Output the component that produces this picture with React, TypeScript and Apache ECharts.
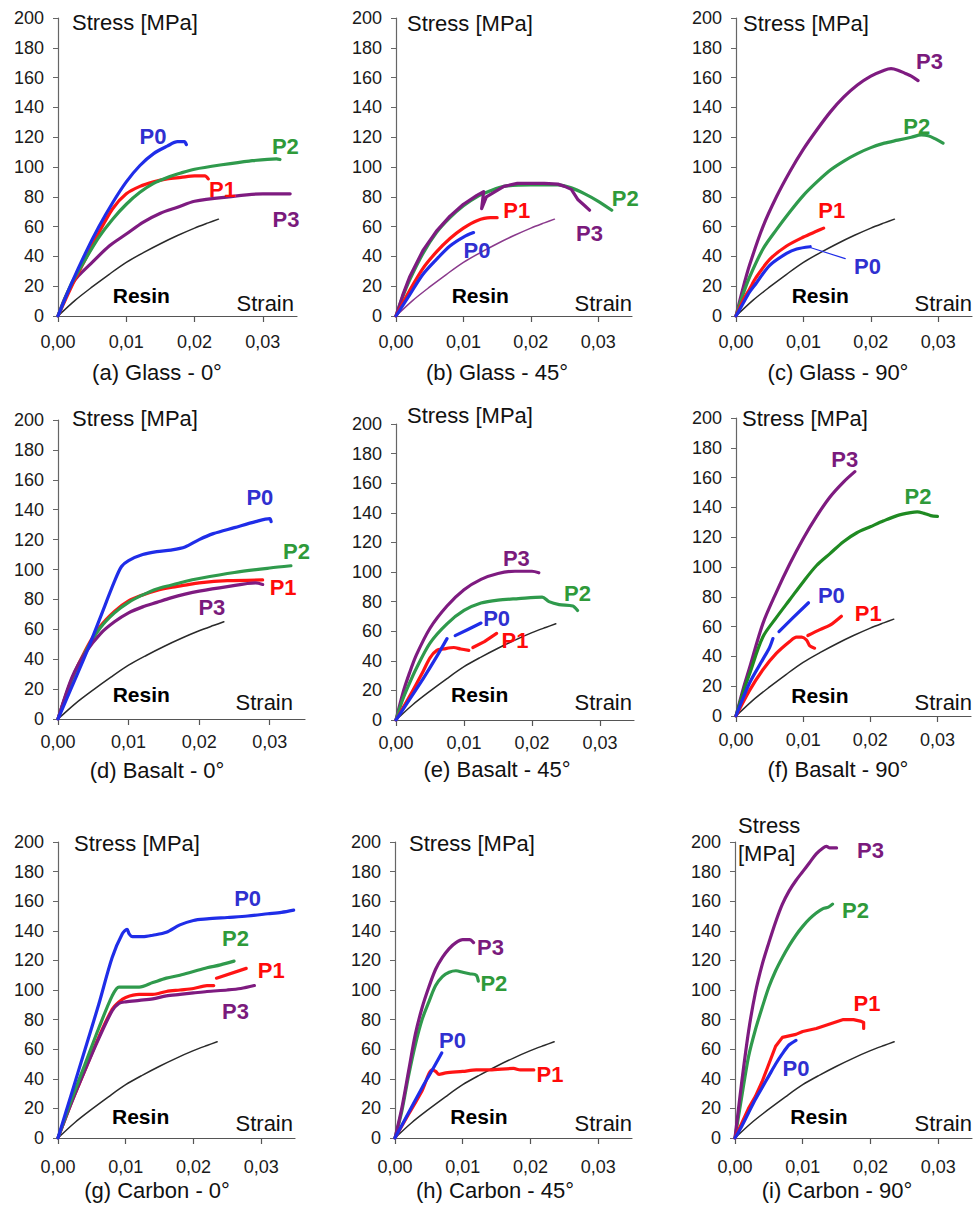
import React, { useEffect, useRef } from 'react';
import * as echarts from 'echarts';

const FONT = '"Liberation Sans", Arial, sans-serif';

const COLORS: Record<string, string> = { P0: '#1f2de8', P1: '#ff1414', P2: '#2f9a4c', P3: '#7e1b80', Resin: '#2a2a2a' };
const LABEL_COLORS: Record<string, string> = { P0: '#3030d0', P1: '#ff0a0a', P2: '#2f9a3a', P3: '#7a1a7c', Resin: '#000000' };

const strainTicks = [0, 0.01, 0.02, 0.03];

// Resin reference curve (same in every panel)
const resin = [[0, 0], [0.0025, 10.5], [0.005, 19.5], [0.0075, 28], [0.01, 36], [0.0125, 42.5], [0.015, 48.5], [0.0175, 54], [0.02, 59], [0.022, 62.5], [0.0235, 65]];

// (a) Glass 0°
const gl0_P0 = [[0, 0], [0.002, 22], [0.004, 42], [0.006, 60], [0.008, 76], [0.010, 90], [0.012, 101], [0.014, 109], [0.016, 114], [0.0175, 117], [0.0185, 117], [0.0188, 115]];
const gl0_P1 = [[0, 0], [0.002, 20], [0.004, 38], [0.006, 56], [0.008, 72], [0.010, 82], [0.012, 87], [0.014, 90], [0.016, 92], [0.018, 93], [0.020, 94], [0.0215, 94], [0.022, 92]];
const gl0_P2 = [[0, 0], [0.002, 22], [0.004, 38], [0.006, 53], [0.008, 65], [0.010, 75], [0.012, 83], [0.014, 89], [0.016, 93], [0.018, 96], [0.020, 98.5], [0.024, 101.5], [0.028, 104], [0.032, 105.5], [0.0325, 105]];
const gl0_P3 = [[0, 0], [0.001, 12], [0.002, 21], [0.003, 27], [0.005, 36], [0.0075, 47], [0.010, 55], [0.0125, 63], [0.015, 69], [0.0175, 73], [0.020, 77], [0.025, 80], [0.030, 82], [0.034, 82]];
const gl0_labels: [string, number, number][] = [['P0', 0.0139, 120.5], ['P1', 0.0241, 84.7], ['P2', 0.0333, 113.8], ['P3', 0.0334, 64.5], ['Resin', 0.0122, 14]];

// (b) Glass 45°
const gl45_P0 = [[0, 0], [0.002, 14], [0.004, 28], [0.006, 38], [0.008, 47], [0.010, 53], [0.0115, 56]];
const gl45_P1 = [[0, 0], [0.002, 17], [0.004, 32], [0.006, 43], [0.008, 52], [0.010, 59], [0.012, 64], [0.014, 66], [0.015, 66]];
const gl45_P2 = [[0, 0], [0.001, 13], [0.002, 24], [0.004, 42], [0.006, 56], [0.008, 66], [0.010, 74], [0.012, 80], [0.014, 84], [0.016, 87], [0.020, 88], [0.024, 88], [0.026, 86], [0.028, 82], [0.030, 77], [0.032, 71]];
const gl45_P3 = [[0, 0], [0.001, 14], [0.002, 26], [0.004, 44], [0.006, 57], [0.008, 67], [0.010, 75], [0.012, 81], [0.013, 83.5], [0.0127, 72], [0.0134, 80], [0.016, 87], [0.018, 89], [0.020, 89], [0.022, 89], [0.024, 88.5], [0.025, 87], [0.026, 85], [0.027, 78], [0.028, 74], [0.0287, 71]];
const gl45_labels: [string, number, number][] = [['P0', 0.012, 44], ['P1', 0.0179, 71], ['P2', 0.034, 79], ['P3', 0.0287, 55.5], ['Resin', 0.0125, 14]];

// (c) Glass 90°
const gl90_P0 = [[0, 0], [0.001, 8], [0.002, 16], [0.003, 22], [0.005, 34], [0.0075, 42], [0.009, 45], [0.011, 46.5]];
const gl90_P0_leader = [[0.011, 46], [0.0162, 38.5]];
const gl90_P1 = [[0, 0], [0.001, 10], [0.002, 18], [0.003, 26], [0.005, 38], [0.0075, 47], [0.010, 53], [0.012, 57], [0.013, 59]];
const gl90_P2 = [[0, 0], [0.001, 14], [0.002, 26], [0.004, 45], [0.006, 58], [0.008, 70], [0.010, 81], [0.012, 90], [0.014, 98], [0.016, 104], [0.018, 109], [0.020, 113], [0.022, 116], [0.024, 118], [0.026, 120], [0.0275, 121.5], [0.0285, 121], [0.0295, 119], [0.0307, 116]];
const gl90_P3 = [[0, 0], [0.001, 18], [0.002, 34], [0.004, 60], [0.006, 80], [0.008, 97], [0.010, 112], [0.012, 125], [0.014, 137], [0.016, 147], [0.018, 155], [0.020, 161], [0.022, 165], [0.023, 166], [0.024, 165], [0.025, 163], [0.026, 161], [0.027, 158]];
const gl90_labels: [string, number, number][] = [['P0', 0.0195, 33], ['P1', 0.0142, 71], ['P2', 0.0268, 127], ['P3', 0.0287, 171], ['Resin', 0.0125, 14]];

// (d) Basalt 0°
const ba0_P0 = [[0, 0], [0.002, 22], [0.004, 44], [0.006, 68], [0.008, 92], [0.009, 102], [0.010, 106], [0.012, 110], [0.014, 112], [0.016, 113], [0.018, 115], [0.020, 120], [0.022, 124], [0.025, 128], [0.028, 132], [0.030, 134], [0.0302, 132]];
const ba0_P1 = [[0, 0], [0.002, 27], [0.004, 47], [0.006, 62], [0.008, 72], [0.010, 79], [0.012, 83], [0.014, 86], [0.016, 88], [0.018, 89.5], [0.020, 91], [0.024, 92.5], [0.029, 93]];
const ba0_P2 = [[0, 0], [0.002, 27], [0.004, 46], [0.006, 61], [0.008, 71], [0.010, 78], [0.012, 83], [0.014, 87], [0.016, 89.5], [0.018, 92], [0.020, 94], [0.025, 98], [0.030, 101], [0.033, 102.5]];
const ba0_P3 = [[0, 0], [0.002, 28], [0.004, 45], [0.006, 57], [0.008, 65], [0.010, 71], [0.012, 75], [0.014, 78], [0.016, 81], [0.018, 83.5], [0.020, 85.5], [0.024, 88.5], [0.028, 91], [0.029, 90]];
const ba0_labels: [string, number, number][] = [['P0', 0.0286, 148], ['P1', 0.0319, 88], ['P2', 0.0338, 112], ['P3', 0.0218, 74.3], ['Resin', 0.0118, 16.3]];

// (e) Basalt 45°
const ba45_P0a = [[0, 0], [0.002, 14], [0.004, 28], [0.006, 43], [0.0075, 55]];
const ba45_P0b = [[0.0087, 57], [0.0105, 61], [0.0125, 65.5]];
const ba45_P1a = [[0, 0], [0.002, 16], [0.004, 33], [0.005, 42], [0.006, 47], [0.007, 48], [0.0085, 49], [0.0095, 48], [0.0107, 47]];
const ba45_P1b = [[0.0113, 49], [0.013, 53], [0.0148, 58.5]];
const ba45_P2 = [[0, 0], [0.001, 14], [0.002, 25], [0.003, 35], [0.005, 52], [0.0075, 65], [0.010, 74], [0.0125, 79], [0.015, 81], [0.018, 82], [0.0215, 83], [0.0225, 80], [0.024, 78], [0.026, 77], [0.0267, 74]];
const ba45_P3 = [[0, 0], [0.001, 18], [0.002, 32], [0.003, 44], [0.005, 62], [0.0075, 77], [0.010, 88], [0.0125, 95], [0.015, 99], [0.0175, 100.5], [0.020, 100.5], [0.021, 99.5]];
const ba45_labels: [string, number, number][] = [['P0', 0.0148, 68.7], ['P1', 0.0175, 54], ['P2', 0.0267, 85.6], ['P3', 0.0177, 109], ['Resin', 0.0123, 17]];

// (f) Basalt 90°
const ba90_P0a = [[0, 0], [0.002, 22], [0.004, 38], [0.005, 46], [0.0055, 52]];
const ba90_P0b = [[0.0064, 56.7], [0.0085, 66], [0.0108, 76]];
const ba90_P1a = [[0, 0], [0.002, 17], [0.004, 31], [0.006, 42], [0.008, 50], [0.009, 53], [0.0098, 53], [0.0105, 51], [0.011, 47], [0.0117, 45.5]];
const ba90_P1b = [[0.0107, 54], [0.0125, 58], [0.014, 61], [0.0157, 67]];
const ba90_P2 = [[0, 0], [0.001, 15], [0.002, 28], [0.004, 53], [0.006, 66], [0.008, 78], [0.010, 90], [0.012, 101], [0.014, 109], [0.016, 117], [0.018, 123], [0.020, 127], [0.022, 131], [0.024, 134.5], [0.026, 136.5], [0.027, 137], [0.028, 136], [0.029, 134.5], [0.030, 134]];
const ba90_P3 = [[0, 0], [0.001, 17], [0.002, 32], [0.004, 62], [0.006, 83], [0.008, 102], [0.010, 119], [0.012, 134], [0.014, 147], [0.016, 157], [0.0177, 164]];
const ba90_labels: [string, number, number][] = [['P0', 0.0142, 81], ['P1', 0.0197, 69], ['P2', 0.0271, 147], ['P3', 0.0162, 172], ['Resin', 0.0125, 14]];

// (g) Carbon 0°
const ca0_P0 = [[0, 0], [0.002, 30], [0.004, 60], [0.006, 90], [0.008, 122], [0.0095, 138], [0.0102, 141], [0.0105, 138], [0.011, 136], [0.0125, 136], [0.014, 137], [0.016, 139], [0.018, 144], [0.020, 147], [0.022, 148], [0.025, 149], [0.028, 150], [0.031, 151.5], [0.033, 152.5], [0.0348, 154]];
const ca0_P1a = [[0, 0], [0.002, 24], [0.004, 46], [0.006, 68], [0.008, 87], [0.009, 92], [0.010, 95], [0.012, 97], [0.014, 97], [0.016, 99], [0.018, 100], [0.020, 101], [0.022, 103], [0.023, 103]];
const ca0_P1b = [[0.0234, 108], [0.0278, 114.6]];
const ca0_P2 = [[0, 0], [0.002, 26], [0.004, 50], [0.006, 74], [0.008, 96], [0.009, 102], [0.010, 102], [0.012, 102], [0.014, 105], [0.016, 108], [0.018, 110], [0.020, 112.5], [0.022, 115], [0.024, 117], [0.026, 119.5]];
const ca0_P3 = [[0, 0], [0.002, 24], [0.004, 46], [0.006, 67], [0.008, 86], [0.009, 91], [0.010, 92], [0.012, 93], [0.014, 94], [0.016, 96], [0.018, 97], [0.020, 98], [0.022, 99], [0.025, 100], [0.027, 101], [0.029, 103]];
const ca0_labels: [string, number, number][] = [['P0', 0.028, 162], ['P1', 0.0315, 113.5], ['P2', 0.0262, 135], ['P3', 0.0262, 85.4], ['Resin', 0.0122, 14.6]];

// (h) Carbon 45°
const ca45_P0 = [[0, 0], [0.002, 17], [0.004, 34], [0.005, 42], [0.006, 50], [0.0069, 57.5]];
const ca45_P1 = [[0, 0], [0.002, 16], [0.004, 32], [0.0055, 46], [0.006, 45], [0.0065, 43], [0.0075, 44], [0.010, 45], [0.012, 46], [0.014, 46], [0.0175, 47], [0.0185, 46], [0.0205, 46]];
const ca45_P2 = [[0, 0], [0.001, 18], [0.002, 42], [0.003, 63], [0.004, 80], [0.005, 92], [0.006, 103], [0.007, 109], [0.008, 112], [0.009, 113], [0.010, 112], [0.011, 111], [0.012, 110], [0.0123, 106]];
const ca45_P3 = [[0, 0], [0.001, 20], [0.002, 45], [0.003, 70], [0.004, 88], [0.005, 102], [0.006, 114], [0.007, 122], [0.008, 128], [0.009, 132], [0.010, 134], [0.011, 134], [0.0116, 132]];
const ca45_labels: [string, number, number][] = [['P0', 0.0085, 66], ['P1', 0.0229, 42.7], ['P2', 0.0146, 104.5], ['P3', 0.0141, 129], ['Resin', 0.0124, 14.6]];

// (i) Carbon 90°
const ca90_P0 = [[0, 0], [0.001, 8], [0.002, 17], [0.003, 26], [0.004, 34], [0.005, 42], [0.006, 50], [0.007, 57], [0.008, 63], [0.009, 66]];
const ca90_P1 = [[0, 0], [0.001, 10], [0.002, 20], [0.003, 28], [0.004, 38], [0.005, 50], [0.006, 62], [0.007, 68], [0.008, 69], [0.009, 70], [0.010, 72], [0.012, 74], [0.014, 77], [0.016, 80], [0.0175, 80], [0.0185, 79], [0.019, 78], [0.019, 74]];
const ca90_P2 = [[0, 0], [0.001, 28], [0.002, 55], [0.003, 73], [0.004, 88], [0.005, 102], [0.006, 113], [0.007, 122], [0.008, 130], [0.009, 137], [0.010, 143], [0.011, 148], [0.012, 152], [0.013, 155], [0.0138, 156], [0.0144, 158]];
const ca90_P3 = [[0, 0], [0.001, 38], [0.002, 72], [0.003, 98], [0.004, 117], [0.005, 132], [0.006, 146], [0.007, 158], [0.008, 167], [0.009, 174], [0.010, 180], [0.011, 186], [0.012, 192], [0.013, 196], [0.0135, 197], [0.014, 196], [0.015, 196]];
const ca90_labels: [string, number, number][] = [['P0', 0.009, 47], ['P1', 0.0195, 91], ['P2', 0.0178, 154], ['P3', 0.020, 194], ['Resin', 0.0124, 14.6]];

type Curve = { key: string; data: number[][]; color?: string; width?: number; sharp?: boolean };
type Panel = {
  caption: string;
  grid: { left: number; top: number; width: number; height: number };
  xLabelMargin: number;
  captionXY: [number, number];
  stress: [string, number, number][];
  strainXY: [number, number];
  curves: Curve[];
  labels: [string, number, number][];
};

const panels: Panel[] = [
  {
    caption: '(a) Glass - 0°', grid: { left: 58, top: 18, width: 239, height: 298 }, xLabelMargin: 17,
    captionXY: [157, 372], stress: [['Stress [MPa]', 72, 22]], strainXY: [294, 303],
    curves: [{ key: 'Resin', data: resin }, { key: 'P3', data: gl0_P3 }, { key: 'P1', data: gl0_P1 }, { key: 'P2', data: gl0_P2 }, { key: 'P0', data: gl0_P0 }],
    labels: gl0_labels,
  },
  {
    caption: '(b) Glass - 45°', grid: { left: 396, top: 18, width: 236, height: 298 }, xLabelMargin: 17,
    captionXY: [497, 372], stress: [['Stress [MPa]', 407, 23]], strainXY: [632, 303],
    curves: [{ key: 'Resin', data: resin, color: '#8a3a8c' }, { key: 'P2', data: gl45_P2 }, { key: 'P3', data: gl45_P3, sharp: true }, { key: 'P1', data: gl45_P1 }, { key: 'P0', data: gl45_P0 }],
    labels: gl45_labels,
  },
  {
    caption: '(c) Glass - 90°', grid: { left: 736, top: 18, width: 236, height: 298 }, xLabelMargin: 17,
    captionXY: [838, 372], stress: [['Stress [MPa]', 743, 23]], strainXY: [972, 303],
    curves: [{ key: 'Resin', data: resin }, { key: 'P3', data: gl90_P3 }, { key: 'P2', data: gl90_P2 }, { key: 'P1', data: gl90_P1 }, { key: 'P0', data: gl90_P0 }, { key: 'P0', data: gl90_P0_leader, width: 1.2 }],
    labels: gl90_labels,
  },
  {
    caption: '(d) Basalt - 0°', grid: { left: 58, top: 420, width: 247, height: 299 }, xLabelMargin: 14,
    captionXY: [157, 770], stress: [['Stress [MPa]', 72, 418]], strainXY: [293, 702],
    curves: [{ key: 'Resin', data: resin }, { key: 'P1', data: ba0_P1 }, { key: 'P2', data: ba0_P2 }, { key: 'P3', data: ba0_P3 }, { key: 'P0', data: ba0_P0 }],
    labels: ba0_labels,
  },
  {
    caption: '(e) Basalt - 45°', grid: { left: 396, top: 424, width: 238, height: 296 }, xLabelMargin: 14,
    captionXY: [497, 769], stress: [['Stress [MPa]', 407, 415]], strainXY: [632, 702],
    curves: [{ key: 'Resin', data: resin }, { key: 'P3', data: ba45_P3 }, { key: 'P2', data: ba45_P2 }, { key: 'P1', data: ba45_P1a }, { key: 'P1', data: ba45_P1b }, { key: 'P0', data: ba45_P0a }, { key: 'P0', data: ba45_P0b }],
    labels: ba45_labels,
  },
  {
    caption: '(f) Basalt - 90°', grid: { left: 736, top: 418, width: 235, height: 298 }, xLabelMargin: 15,
    captionXY: [838, 769], stress: [['Stress [MPa]', 742, 418]], strainXY: [972, 702],
    curves: [{ key: 'Resin', data: resin }, { key: 'P3', data: ba90_P3 }, { key: 'P2', data: ba90_P2, color: '#1f8a22' }, { key: 'P1', data: ba90_P1a }, { key: 'P1', data: ba90_P1b }, { key: 'P0', data: ba90_P0a }, { key: 'P0', data: ba90_P0b }],
    labels: ba90_labels,
  },
  {
    caption: '(g) Carbon - 0°', grid: { left: 58, top: 842, width: 237, height: 296 }, xLabelMargin: 20,
    captionXY: [157, 1190], stress: [['Stress [MPa]', 74, 843]], strainXY: [293, 1123],
    curves: [{ key: 'Resin', data: resin }, { key: 'P1', data: ca0_P1a }, { key: 'P1', data: ca0_P1b }, { key: 'P3', data: ca0_P3 }, { key: 'P2', data: ca0_P2 }, { key: 'P0', data: ca0_P0 }],
    labels: ca0_labels,
  },
  {
    caption: '(h) Carbon - 45°', grid: { left: 395, top: 842, width: 237, height: 296 }, xLabelMargin: 20,
    captionXY: [495, 1190], stress: [['Stress [MPa]', 409, 843]], strainXY: [632, 1123],
    curves: [{ key: 'Resin', data: resin }, { key: 'P1', data: ca45_P1 }, { key: 'P2', data: ca45_P2 }, { key: 'P3', data: ca45_P3 }, { key: 'P0', data: ca45_P0 }],
    labels: ca45_labels,
  },
  {
    caption: '(i) Carbon - 90°', grid: { left: 735, top: 842, width: 237, height: 296 }, xLabelMargin: 20,
    captionXY: [837, 1190], stress: [['Stress', 738, 825], ['[MPa]', 738, 853]], strainXY: [972, 1123],
    curves: [{ key: 'Resin', data: resin }, { key: 'P2', data: ca90_P2 }, { key: 'P3', data: ca90_P3 }, { key: 'P1', data: ca90_P1, sharp: true }, { key: 'P0', data: ca90_P0 }],
    labels: ca90_labels,
  },
];

const fmtStrain = (v: number) => {
  if (Math.abs(v * 100 - Math.round(v * 100)) > 1e-6) return '';
  return v.toFixed(2).replace('.', ',');
};

function buildOption() {
  const grid = panels.map((p) => ({ ...p.grid, containLabel: false }));
  const xAxis = panels.map((p, i) => ({
    gridIndex: i,
    type: 'value',
    min: 0,
    max: 0.035,
    interval: 0.01,
    axisLine: { show: true, onZero: false, lineStyle: { color: '#555', width: 1.2 } },
    axisTick: { show: true, length: 6, customValues: strainTicks, lineStyle: { color: '#555', width: 1.2 } },
    axisLabel: {
      customValues: strainTicks,
      formatter: fmtStrain,
      fontSize: 18,
      fontFamily: FONT,
      color: '#1a1a1a',
      margin: p.xLabelMargin,
    },
    splitLine: { show: false },
  }));
  const yAxis = panels.map((p, i) => ({
    gridIndex: i,
    type: 'value',
    min: 0,
    max: 200,
    interval: 20,
    axisLine: { show: true, onZero: false, lineStyle: { color: '#666', width: 1.2 } },
    axisTick: { show: true, length: 5, lineStyle: { color: '#666' } },
    axisLabel: { fontSize: 18, fontFamily: FONT, color: '#1a1a1a', margin: 14 },
    splitLine: { show: false },
  }));

  const series: any[] = [];
  panels.forEach((p, i) => {
    p.curves.forEach((c) => {
      const isResin = c.key === 'Resin';
      series.push({
        type: 'line',
        xAxisIndex: i,
        yAxisIndex: i,
        data: c.data,
        symbol: 'none',
        showSymbol: false,
        silent: true,
        smooth: c.sharp || c.data.length < 4 ? false : 0.3,
        z: isResin ? 2 : 3,
        lineStyle: { color: c.color ?? COLORS[c.key], width: c.width ?? (isResin ? 1.5 : 3.2), cap: 'round', join: 'round' },
      });
    });
    series.push({
      type: 'scatter',
      xAxisIndex: i,
      yAxisIndex: i,
      symbol: 'circle',
      symbolSize: 1,
      clip: false,
      silent: true,
      z: 5,
      itemStyle: { color: 'rgba(0,0,0,0)' },
      data: p.labels.map(([t, x, y]) => ({
        value: [x, y],
        label: {
          show: true,
          position: 'inside',
          formatter: t,
          color: LABEL_COLORS[t],
          textBorderWidth: 0,
          textBorderColor: 'transparent',
          textShadowBlur: 0,
          opacity: 1,
          fontSize: t === 'Resin' ? 21 : 22,
          fontWeight: 'bold',
          fontFamily: FONT,
        },
      })),
    });
  });

  const graphic: any[] = [];
  panels.forEach((p) => {
    graphic.push({
      type: 'text',
      x: p.captionXY[0],
      y: p.captionXY[1],
      silent: true,
      style: { text: p.caption, fontSize: 22, fontFamily: FONT, fill: '#111', align: 'center', verticalAlign: 'middle' },
    });
    p.stress.forEach(([t, x, y]) => {
      graphic.push({
        type: 'text',
        x,
        y,
        silent: true,
        style: { text: t, fontSize: 22, fontFamily: FONT, fill: '#111', align: 'left', verticalAlign: 'middle' },
      });
    });
    graphic.push({
      type: 'text',
      x: p.strainXY[0],
      y: p.strainXY[1],
      silent: true,
      style: { text: 'Strain', fontSize: 22, fontFamily: FONT, fill: '#111', align: 'right', verticalAlign: 'middle' },
    });
  });

  return {
    animation: false,
    backgroundColor: '#ffffff',
    grid,
    xAxis,
    yAxis,
    series,
    graphic,
  };
}

export default function App() {
  const ref = useRef<HTMLDivElement>(null);
  useEffect(() => {
    if (!ref.current) return;
    const chart = echarts.init(ref.current, undefined, { renderer: 'svg' });
    chart.setOption(buildOption() as any);
    return () => chart.dispose();
  }, []);
  return <div ref={ref} style={{ position: 'absolute', left: 0, top: 0, width: 974, height: 1209, background: '#fff' }} />;
}
